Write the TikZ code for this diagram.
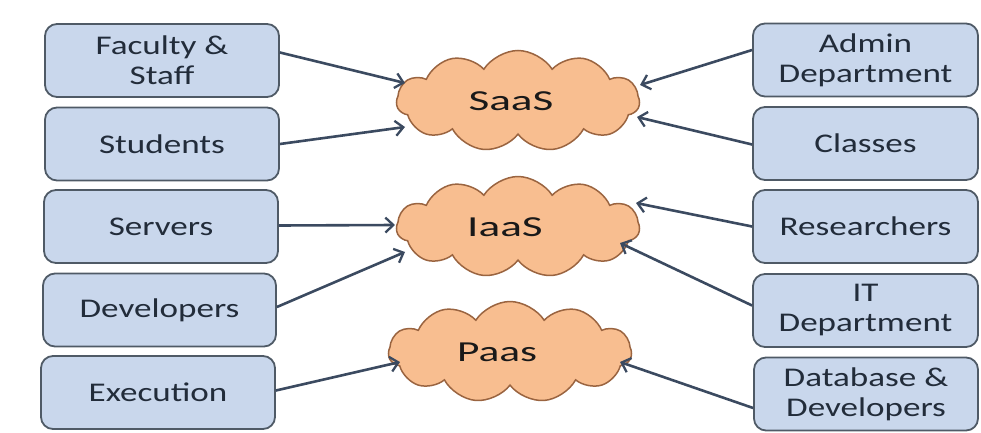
\documentclass[tikz,border=0pt]{standalone}
\usepackage{fontspec}
\setmainfont{Carlito}[FakeStretch=1.3]
\usetikzlibrary{shapes.symbols,arrows.meta,calc}
\definecolor{boxfill}{HTML}{C9D7EC}
\definecolor{boxline}{HTML}{4F5A66}
\definecolor{txt}{HTML}{222C3A}
\definecolor{cloudfill}{HTML}{F8BE90}
\definecolor{cloudline}{HTML}{9A6440}
\definecolor{arr}{HTML}{3B4A60}
\tikzset{
  boxnode/.style={draw=boxline, line width=1.8pt, fill=boxfill, rounded corners=12pt,
    minimum height=73pt, align=center, text=txt, inner sep=0pt,
    font=\fontsize{27}{30}\selectfont},
  cloudnode/.style={cloud, cloud puffs=11, cloud puff arc=115, aspect=2.4, draw=cloudline, line width=1.5pt,
    fill=cloudfill, minimum width=243pt, minimum height=101pt, inner sep=0pt, text=black!90,
    font=\fontsize{29}{32}\selectfont},
  conn/.style={draw=arr, line width=2.6pt, -{Straight Barb[length=8pt,width=15pt,line width=2.3pt]}}
}
\begin{document}
\begin{tikzpicture}[x=1pt,y=-1pt]
\useasboundingbox (0,0) rectangle (981,433);
% left boxes
\node[boxnode, minimum width=234pt] (fac) at (162,60.5) {Faculty \&\\Staff};
\node[boxnode, minimum width=234pt] (stu) at (162,144) {Students};
\node[boxnode, minimum width=234pt] (srv) at (161,226.5) {Servers};
\node[boxnode, minimum width=233pt] (dev) at (159.5,310) {Developers};
\node[boxnode, minimum width=234pt] (exe) at (158,392.5) {Execution};
% right boxes
\node[boxnode, minimum width=225pt] (adm) at (865.5,60) {Admin\\Department};
\node[boxnode, minimum width=225pt] (cls) at (865.5,143.5) {Classes};
\node[boxnode, minimum width=225pt] (res) at (865.5,226.5) {Researchers};
\node[boxnode, minimum width=225pt] (itd) at (865.5,310.5) {IT\\Department};
\node[boxnode, minimum width=224pt] (dbd) at (866,394) {Database \&\\Developers};
% clouds
\node[cloudnode] (saas) at (518,101) {\makebox[0pt]{\hspace*{-14pt}\scalebox{1.2}[1]{SaaS}}};
\node[cloudnode] (iaas) at (518,227) {\makebox[0pt]{\hspace*{-26pt}\scalebox{1.2}[1]{IaaS}}};
\node[cloudnode] (paas) at (510,352) {\makebox[0pt]{\hspace*{-26pt}\scalebox{1.15}[1]{Paas}}};
% connectors
\draw[conn] ($(fac.east)+(0,-8)$) -- ($(saas.center)+(-113,-18)$);
\draw[conn] (stu.east) -- ($(saas.center)+(-113,26)$);
\draw[conn] ($(srv.east)+(0,-1)$) -- ($(iaas.center)+(-123,-2)$);
\draw[conn] ($(dev.east)+(0,-3)$) -- ($(iaas.center)+(-113,25)$);
\draw[conn] ($(exe.east)+(0,-2)$) -- ($(paas.center)+(-110,10)$);
\draw[conn] ($(adm.west)+(0,-10)$) -- ($(saas.center)+(122,-16)$);
\draw[conn] ($(cls.west)+(0,1)$) -- ($(saas.center)+(119,16)$);
\draw[conn] ($(res.west)+(0,0)$) -- ($(iaas.center)+(118,-24)$);
\draw[conn] ($(itd.west)+(0,-5)$) -- ($(iaas.center)+(102,16)$);
\draw[conn] ($(dbd.west)+(0,14)$) -- ($(paas.center)+(110,10)$);
\end{tikzpicture}
\end{document}
